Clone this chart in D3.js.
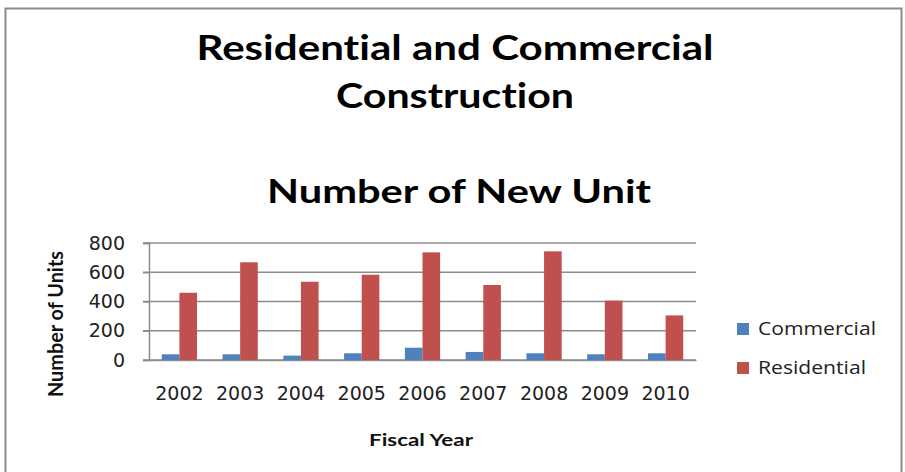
<!DOCTYPE html>
<html><head><meta charset="utf-8">
<script src="https://cdn.jsdelivr.net/npm/d3@7"></script>
<style>body{margin:0;background:#fff;} svg{display:block;} text{font-variant-ligatures:none;font-feature-settings:"liga" 0,"clig" 0;}</style>
</head><body>
<svg id="chart" width="905" height="472"></svg>
<script>
const years = ["2002","2003","2004","2005","2006","2007","2008","2009","2010"];
const commercial = [39, 39, 30, 46, 84, 55, 46, 39, 46];
const residential = [460, 668, 535, 583, 736, 513, 743, 406, 305];
const seriesNames = ["Commercial", "Residential"];
const seriesColors = ["#4F81BD", "#C0504D"];
const yTicks = [0, 200, 400, 600, 800];

(function () {
const svg = d3.select("#chart");
const tickFont = "'DejaVu Sans', sans-serif";
const titleFont = "Lato, 'Open Sans', sans-serif";
const legendFont = "'Open Sans', sans-serif";

// outer frame
svg.append("rect").attr("x", 5.5).attr("y", 8.5).attr("width", 896).attr("height", 480)
  .attr("fill", "#fff").attr("stroke", "#8a8a8a").attr("stroke-width", 2);

const pLeft = 149, pRight = 696, pTop = 243, pBottom = 360;
const x = d3.scaleBand().domain(years).range([pLeft, pRight]).paddingInner(0.42).paddingOuter(0.21);
const xs = d3.scaleBand().domain(seriesNames).range([0, x.bandwidth()]);
const y = d3.scaleLinear().domain([0, 800]).range([pBottom, pTop]);

// gridlines
svg.append("g").selectAll("line").data(yTicks).join("line")
  .attr("x1", pLeft - 6).attr("x2", pRight)
  .attr("y1", d => y(d)).attr("y2", d => y(d))
  .attr("stroke", "#8c8c8c").attr("stroke-width", 1.5);

// y axis
const yAxis = svg.append("g").attr("transform", `translate(${pLeft},0)`)
  .call(d3.axisLeft(y).tickValues(yTicks).tickSize(6).tickPadding(18));
yAxis.select(".domain").attr("stroke", "#8c8c8c").attr("stroke-width", 1.5);
yAxis.selectAll(".tick line").attr("stroke", "#8c8c8c").attr("stroke-width", 1.5);
yAxis.selectAll("text").attr("font-family", tickFont).attr("font-size", 19).attr("fill", "#222");

// x axis
const xAxis = svg.append("g").attr("transform", `translate(0,${pBottom})`)
  .call(d3.axisBottom(x).tickSize(0).tickPadding(27));
xAxis.select(".domain").attr("stroke", "#8c8c8c").attr("stroke-width", 1.5);
xAxis.selectAll("text").attr("font-family", tickFont).attr("font-size", 19).attr("fill", "#222");

// bars
const data = [commercial, residential];
data.forEach((vals, si) => {
  svg.append("g").selectAll("rect").data(vals).join("rect")
    .attr("x", (d, i) => x(years[i]) + xs(seriesNames[si]))
    .attr("y", d => y(d))
    .attr("width", xs.bandwidth())
    .attr("height", d => y(0) - y(d))
    .attr("fill", seriesColors[si]);
});

// titles
svg.append("text").attr("x", 455).attr("y", 60).attr("text-anchor", "middle")
  .attr("font-family", titleFont).attr("font-weight", "bold").attr("font-size", 34)
  .attr("textLength", 517).attr("lengthAdjust", "spacingAndGlyphs")
  .text("Residential and Commercial");
svg.append("text").attr("x", 455).attr("y", 108).attr("text-anchor", "middle")
  .attr("font-family", titleFont).attr("font-weight", "bold").attr("font-size", 34)
  .attr("textLength", 238).attr("lengthAdjust", "spacingAndGlyphs")
  .text("Construction");
svg.append("text").attr("x", 459).attr("y", 203).attr("text-anchor", "middle")
  .attr("font-family", titleFont).attr("font-weight", "bold").attr("font-size", 33)
  .attr("textLength", 384).attr("lengthAdjust", "spacingAndGlyphs")
  .text("Number of New Unit");

// axis titles
svg.append("text").attr("transform", "translate(63,324) rotate(-90)").attr("text-anchor", "middle")
  .attr("font-family", titleFont).attr("font-weight", "bold").attr("font-size", 21).attr("fill", "#111")
  .attr("textLength", 146).attr("lengthAdjust", "spacingAndGlyphs")
  .text("Number of Units");
svg.append("text").attr("x", 421).attr("y", 446).attr("text-anchor", "middle")
  .attr("font-family", titleFont).attr("font-weight", "bold").attr("font-size", 17.5).attr("fill", "#111")
  .attr("textLength", 104).attr("lengthAdjust", "spacingAndGlyphs")
  .text("Fiscal Year");

// legend
const lg = svg.append("g");
seriesNames.forEach((n, i) => {
  const yy = 323 + i * 39;
  lg.append("rect").attr("x", 737).attr("y", yy).attr("width", 12).attr("height", 12).attr("fill", seriesColors[i]);
  lg.append("text").attr("x", 758).attr("y", yy + 12).attr("font-family", legendFont).attr("font-size", 19)
    .attr("fill", "#222").attr("textLength", i === 0 ? 118 : 108).attr("lengthAdjust", "spacingAndGlyphs").text(n);
});
})();
</script>
</body></html>
